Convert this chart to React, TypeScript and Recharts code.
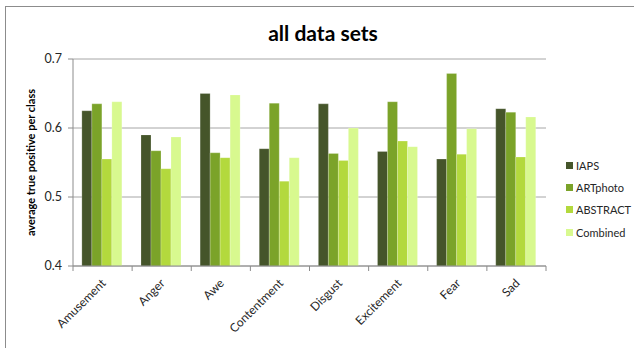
import React from "react";
import { BarChart, Bar, XAxis, YAxis, CartesianGrid } from "recharts";

const categories = ["Amusement", "Anger", "Awe", "Contentment", "Disgust", "Excitement", "Fear", "Sad"];
const iaps = [0.625, 0.59, 0.65, 0.57, 0.635, 0.566, 0.555, 0.628];
const artphoto = [0.635, 0.567, 0.564, 0.636, 0.563, 0.638, 0.679, 0.623];
const abstractSet = [0.555, 0.541, 0.557, 0.523, 0.553, 0.581, 0.562, 0.558];
const combined = [0.638, 0.587, 0.648, 0.557, 0.6, 0.573, 0.599, 0.616];
const yTicks = [0.4, 0.5, 0.6, 0.7];

const series = [
  { key: "iaps", label: "IAPS", color: "#45552a", values: iaps },
  { key: "artphoto", label: "ARTphoto", color: "#7ba329", values: artphoto },
  { key: "abstract", label: "ABSTRACT", color: "#b3d93d", values: abstractSet },
  { key: "combined", label: "Combined", color: "#d8f98f", values: combined },
];

const data = categories.map((name, i) => {
  const row: Record<string, any> = { name };
  series.forEach((s) => (row[s.key] = s.values[i]));
  return row;
});

const W = 634;
const H = 348;
const margin = { top: 59, right: 88, bottom: 0, left: 0 };
const Y_AXIS_W = 73;
const X_AXIS_H = 82;
const plotWidth = W - margin.left - margin.right - Y_AXIS_W;
const band = plotWidth / categories.length;
const FONT = "Lato, 'Open Sans', sans-serif";

const CategoryTick = ({ x, y, payload, index }: any) => (
  <g>
    <line x1={x - band / 2} x2={x - band / 2} y1={y} y2={y + 5} stroke="#8c8c8c" />
    {index === categories.length - 1 ? (
      <line x1={x + band / 2} x2={x + band / 2} y1={y} y2={y + 5} stroke="#8c8c8c" />
    ) : null}
    <text
      x={x + 4}
      y={y + 18}
      transform={`rotate(-45, ${x + 4}, ${y + 18})`}
      textAnchor="end"
      fontSize={12}
      fontFamily={FONT}
      fill="#262626"
    >
      {payload.value}
    </text>
  </g>
);

const YLabel = ({ viewBox }: any) => {
  const cx = 30;
  const cy = viewBox.y + viewBox.height / 2;
  return (
    <text
      x={cx}
      y={cy}
      transform={`rotate(-90, ${cx}, ${cy})`}
      textAnchor="middle"
      dominantBaseline="central"
      fontSize={11}
      fontWeight="bold"
      fontFamily={FONT}
      fill="#000"
    >
      average true positive per class
    </text>
  );
};

export default function App() {
  return (
    <div style={{ position: "fixed", left: 0, top: 0, width: W, height: H, overflow: "hidden", background: "#fff", fontFamily: FONT }}>
      <div style={{ position: "absolute", left: 0, top: 0 }}>
        <BarChart width={W} height={H} data={data} margin={margin} barCategoryGap="15%" barGap={0}>
          <CartesianGrid vertical={false} stroke="#a6a6a6" />
          <XAxis
            dataKey="name"
            height={X_AXIS_H}
            interval={0}
            tickLine={false}
            tickSize={0}
            tickMargin={0}
            axisLine={{ stroke: "#8c8c8c" }}
            tick={<CategoryTick />}
          />
          <YAxis
            width={Y_AXIS_W}
            domain={[0.4, 0.7]}
            ticks={yTicks}
            allowDataOverflow
            tickFormatter={(v: number) => v.toFixed(1)}
            tickSize={5}
            tickMargin={6}
            tickLine={{ stroke: "#8c8c8c" }}
            axisLine={{ stroke: "#8c8c8c" }}
            tick={{ fontSize: 12.5, fill: "#262626", fontFamily: FONT }}
            label={<YLabel />}
          />
          {series.map((s) => (
            <Bar key={s.key} dataKey={s.key} name={s.label} fill={s.color} stroke="#ffffff" strokeOpacity={0.35} strokeWidth={0.6} isAnimationActive={false} />
          ))}
        </BarChart>
      </div>
      <div style={{ position: "absolute", left: 218, width: 210, top: 20, textAlign: "center", fontSize: 21, fontWeight: "bold", color: "#000", lineHeight: "26px" }}>
        all data sets
      </div>
      <div style={{ position: "absolute", left: 566, top: 154, width: 66, whiteSpace: "nowrap" }}>
        {series.map((s) => (
          <div key={s.key} style={{ display: "flex", alignItems: "center", height: 22.3, fontSize: 11, color: "#262626" }}>
            <span style={{ display: "inline-block", width: 7, height: 7, background: s.color, marginRight: 3 }} />
            {s.label}
          </div>
        ))}
      </div>
      {/* outer chart-area frame: only its left and top edges fall inside the picture */}
      <div style={{ position: "absolute", left: 5, top: 6, width: 1, height: H, background: "#8c8c8c" }} />
      <div style={{ position: "absolute", left: 5, top: 6, width: W, height: 1, background: "#8c8c8c" }} />
    </div>
  );
}
